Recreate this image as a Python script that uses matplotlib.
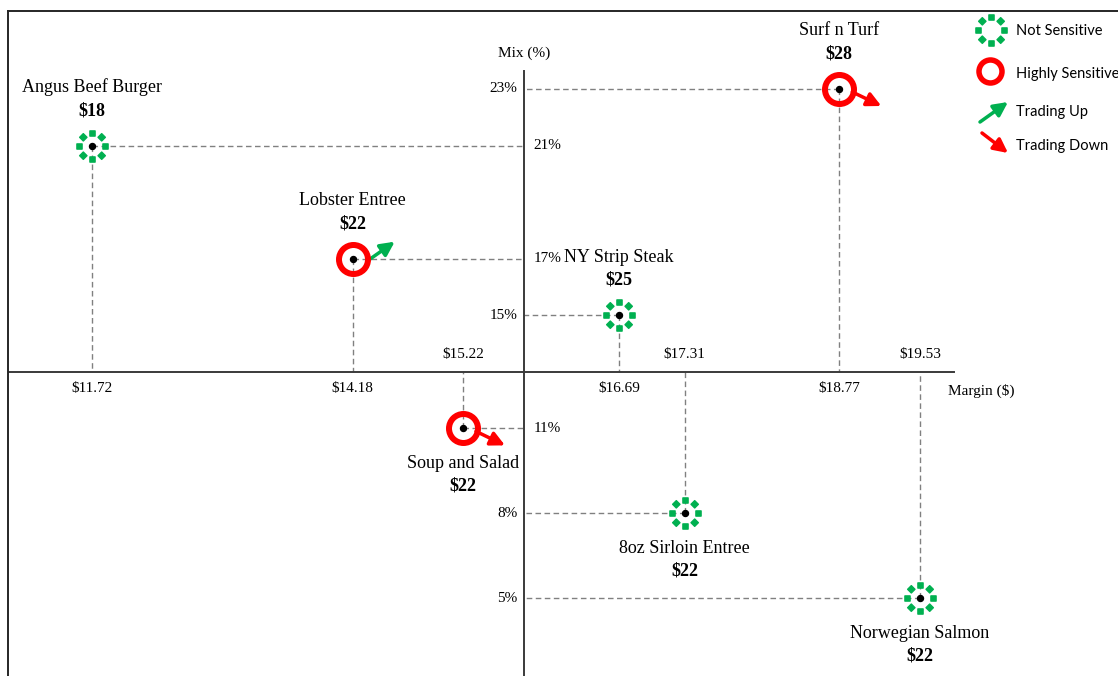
import numpy as np
import matplotlib
matplotlib.use("Agg")
import matplotlib.pyplot as plt
from matplotlib.path import Path
from matplotlib.transforms import ScaledTranslation

plt.rcParams["text.parse_math"] = False
plt.rcParams["font.family"] = "Liberation Serif"

# menu items: margin ($) vs share of mix (%)
items = ["Angus Beef Burger", "Lobster Entree", "Soup and Salad", "NY Strip Steak",
         "8oz Sirloin Entree", "Surf n Turf", "Norwegian Salmon"]
margin = [11.72, 14.18, 15.22, 16.69, 17.31, 18.77, 19.53]
mix = [21, 17, 11, 15, 8, 23, 5]
price = [18, 22, 22, 25, 22, 28, 22]
sensitive = [False, True, True, False, False, True, False]
trend = [None, "up", "down", None, None, "down", None]

# where the quadrant axes cross
margin_mid = 15.8
mix_mid = 13.0

GREEN = "#00B050"
RED = "#FF0000"
W, H = 1118, 676
DPI = 100

fig = plt.figure(figsize=(W / DPI, H / DPI), dpi=DPI)
ax = fig.add_axes([8 / W, 0, (W - 8) / W, (H - 11) / H])
ax.set_xlim(10.928, 21.399)
ax.set_ylim(2.244, 25.758)
ax.set_xticks([])
ax.set_yticks([])
for side in ["right", "bottom"]:
    ax.spines[side].set_visible(False)
for side in ["left", "top"]:
    ax.spines[side].set_color("#262626")
    ax.spines[side].set_linewidth(1.4)


def pt(n):
    # pixels -> points
    return n * 72 / DPI


def shifted(dx, dy):
    return ax.transData + ScaledTranslation(dx / DPI, dy / DPI, fig.dpi_scale_trans)


def dotted_ring(radius=13, half=2.6, n=8):
    # ring of small squares, each turned to follow the circle
    verts, codes = [], []
    for k in range(n):
        a = 2 * np.pi * k / n
        c = np.array([np.cos(a), np.sin(a)]) * radius
        r = np.array([np.cos(a), np.sin(a)]) * half
        t = np.array([-np.sin(a), np.cos(a)]) * half
        sq = [c + r + t, c - r + t, c - r - t, c + r - t, c + r + t]
        verts += [tuple(v) for v in sq]
        codes += [Path.MOVETO, Path.LINETO, Path.LINETO, Path.LINETO, Path.CLOSEPOLY]
    verts = np.array(verts)
    return Path(verts, codes), 2 * np.abs(verts).max()


ring_path, ring_px = dotted_ring()
arrow_kw = dict(arrowstyle="-|>", lw=pt(3.5), mutation_scale=21, shrinkA=0, shrinkB=0)

# quadrant axes
axis_right = 19.85
axis_top = 23.65
ax.plot([ax.get_xlim()[0], axis_right], [mix_mid, mix_mid], color="#3a3a3a", lw=1.4, zorder=2)
ax.plot([margin_mid, margin_mid], [ax.get_ylim()[0], axis_top], color="#3a3a3a", lw=1.4, zorder=2)
ax.annotate("Mix (%)", xy=(margin_mid, axis_top), textcoords="offset pixels", xytext=(0, 17),
            ha="center", va="center", fontsize=11)
ax.annotate("Margin ($)", xy=(axis_right, mix_mid), textcoords="offset pixels", xytext=(27, -19),
            ha="center", va="center", fontsize=11)

for name, x, y, p, hs, tr in zip(items, margin, mix, price, sensitive, trend):
    # guide lines to both axes
    ax.plot([x, margin_mid], [y, y], color="#808080", lw=1.0, ls=(0, (4, 2.5)), zorder=1)
    ax.plot([x, x], [y, mix_mid], color="#808080", lw=1.0, ls=(0, (4, 2.5)), zorder=1)

    left = x < margin_mid
    above = y > mix_mid
    ax.annotate(f"{y}%", xy=(margin_mid, y), textcoords="offset pixels",
                xytext=(9 if left else -7, 0), ha="left" if left else "right",
                va="center", fontsize=11)
    ax.annotate(f"${x:.2f}", xy=(x, mix_mid), textcoords="offset pixels",
                xytext=(0, -17 if above else 17), ha="center", va="center", fontsize=11)

    if hs:
        ax.plot(x, y, "o", ms=pt(29), mfc="none", mec=RED, mew=pt(6), zorder=4)
    else:
        ax.plot(x, y, marker=ring_path, ms=pt(ring_px), color=GREEN, ls="none", zorder=4)
    ax.plot(x, y, "o", ms=pt(6), color="black", zorder=5)

    if tr == "up":
        ax.annotate("", xy=(x, y), xycoords=shifted(42, 17), xytext=(x, y),
                    textcoords=shifted(15, -2),
                    arrowprops=dict(color=GREEN, **arrow_kw), zorder=3)
    elif tr == "down":
        ax.annotate("", xy=(x, y), xycoords=shifted(42, -17), xytext=(x, y),
                    textcoords=shifted(13, -3),
                    arrowprops=dict(color=RED, **arrow_kw), zorder=3)

    if above:
        name_dy, price_dy = 58, 35
    else:
        name_dy, price_dy = -35, -58
    ax.annotate(name, xy=(x, y), textcoords="offset pixels", xytext=(0, name_dy),
                ha="center", va="center", fontsize=13)
    ax.annotate(f"${p}", xy=(x, y), textcoords="offset pixels", xytext=(0, price_dy),
                ha="center", va="center", fontsize=13, fontweight="bold")

# key, top right
ft = fig.transFigure
lx = 1016
ax.plot(991 / W, 1 - 30 / H, marker=ring_path, ms=pt(ring_px), color=GREEN, ls="none",
        transform=ft, clip_on=False)
ax.plot(990 / W, 1 - 71 / H, "o", ms=pt(23), mfc="none", mec=RED, mew=pt(5.5),
        transform=ft, clip_on=False)
ax.annotate("", xy=(1008 / W, 1 - 102 / H), xycoords=ft, xytext=(980 / W, 1 - 122 / H),
            textcoords=ft, arrowprops=dict(color=GREEN, **arrow_kw))
ax.annotate("", xy=(1008 / W, 1 - 153 / H), xycoords=ft, xytext=(982 / W, 1 - 133 / H),
            textcoords=ft, arrowprops=dict(color=RED, **arrow_kw))
for label, ly in zip(["Not Sensitive", "Highly Sensitive", "Trading Up", "Trading Down"],
                     [31, 74, 112, 146]):
    fig.text(lx / W, 1 - ly / H, label, ha="left", va="center", fontsize=10.5,
             family="Lato")

fig.savefig("out.png", dpi=DPI)
